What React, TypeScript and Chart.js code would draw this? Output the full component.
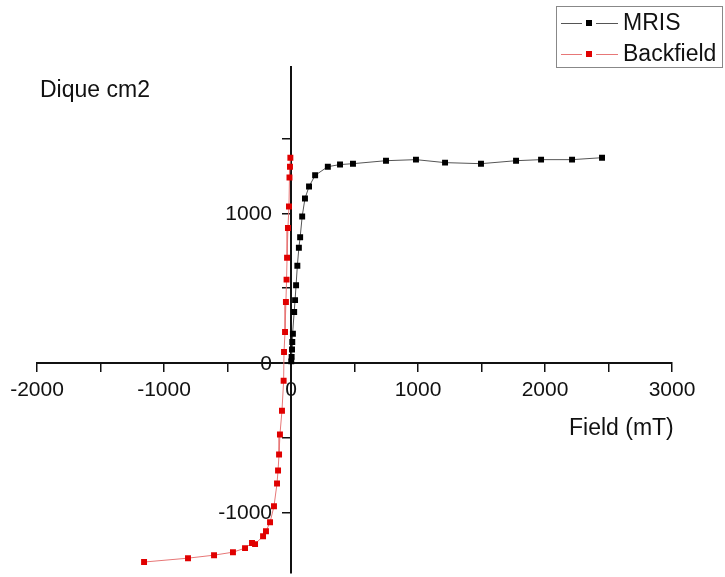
import React, { useEffect, useRef } from "react";
import { Chart, registerables } from "chart.js";
Chart.register(...registerables);

// ---- data ----
const mrisField = [2, 5, 8, 10, 15, 25, 32, 40, 50, 62, 72, 88, 110, 142, 190, 290, 386, 488, 748, 984, 1213, 1496, 1772, 1969, 2213, 2449];
const mrisMoment = [10, 40, 90, 140, 195, 340, 420, 520, 650, 770, 840, 980, 1100, 1180, 1255, 1313, 1327, 1333, 1353, 1360, 1340, 1333, 1353, 1360, 1360, 1373];
const backField = [-5, -8, -12, -16, -24, -31, -35, -40, -47, -55, -58, -71, -87, -94, -102, -110, -134, -165, -197, -220, -283, -307, -362, -457, -606, -811, -1157];
const backMoment = [1373, 1313, 1240, 1047, 903, 703, 557, 407, 207, 73, -120, -320, -480, -613, -720, -807, -960, -1067, -1127, -1160, -1213, -1205, -1240, -1267, -1287, -1307, -1333];

// ---- ticks ----
const xTickValues = [-2000, -1500, -1000, -500, 0, 500, 1000, 1500, 2000, 2500, 3000];
const yTickValues = [-1000, -500, 0, 500, 1000, 1500];
const labelStep = 1000;

const seriesNames = ["MRIS", "Backfield"];
const xTitle = "Field (mT)";
const yTitle = "Dique cm2";
const xMin = -2000;
const xMax = 3000;
const yMin = -1405;
const yMax = 1980;

const FONT = '"Liberation Sans", Arial, sans-serif';
const lineColors = ["#555555", "#e77777"];
const pointColors = ["#000000", "#e00000"];

const overlayPlugin = {
  id: "overlay",
  afterDraw(chart: any) {
    const ctx = chart.ctx;
    const xs = chart.scales.x;
    const ys = chart.scales.y;
    ctx.save();
    // y tick labels, from the y scale's own ticks
    const x0 = xs.getPixelForValue(0);
    ctx.font = `21px ${FONT}`;
    ctx.fillStyle = "#111";
    ctx.textAlign = "right";
    ctx.textBaseline = "middle";
    ys.ticks.forEach((t: any) => {
      if (t.value % labelStep === 0) {
        ctx.fillText(String(t.value), x0 - 19, ys.getPixelForValue(t.value) + 1);
      }
    });

    ctx.textBaseline = "alphabetic";
    ctx.font = `23px ${FONT}`;
    ctx.textAlign = "left";
    ctx.fillText(yTitle, 40, 97);
    ctx.fillText(xTitle, 569, 435);

    // legend
    ctx.strokeStyle = "#888";
    ctx.lineWidth = 1;
    ctx.strokeRect(556.5, 6.5, 166, 61);
    const rowsY = [23, 54];
    seriesNames.forEach((name, i) => {
      const y = rowsY[i];
      ctx.strokeStyle = lineColors[i];
      ctx.lineWidth = 1;
      ctx.beginPath();
      ctx.moveTo(561, y + 0.5);
      ctx.lineTo(582, y + 0.5);
      ctx.moveTo(596, y + 0.5);
      ctx.lineTo(618, y + 0.5);
      ctx.stroke();
      ctx.fillStyle = pointColors[i];
      ctx.fillRect(586, y - 3, 6, 6);
      ctx.fillStyle = "#111";
      ctx.font = `23px ${FONT}`;
      ctx.textBaseline = "middle";
      ctx.fillText(name, 623, y + 1);
    });
    ctx.restore();
  },
};

const zeroFit = (horizontal: boolean) => (s: any) => {
  if (horizontal) s.height = 0;
  else s.width = 0;
  s.paddingLeft = 0;
  s.paddingRight = 0;
  s.paddingTop = 0;
  s.paddingBottom = 0;
};

export default function App() {
  const ref = useRef<HTMLCanvasElement | null>(null);
  useEffect(() => {
    document.body.style.margin = "0";
    const canvas = ref.current!;
    const mk = (xs: number[], ys: number[]) => xs.map((x, i) => ({ x, y: ys[i] }));
    const tickFont = { family: FONT, size: 21 };
    const chart = new Chart(canvas, {
      type: "scatter",
      data: {
        datasets: [
          {
            label: seriesNames[0],
            data: mk(mrisField, mrisMoment),
            showLine: true,
            borderColor: lineColors[0],
            borderWidth: 1,
            pointStyle: "rect",
            pointRadius: 4.2,
            pointBackgroundColor: pointColors[0],
            pointBorderColor: pointColors[0],
            pointBorderWidth: 0,
          },
          {
            label: seriesNames[1],
            data: mk(backField, backMoment),
            showLine: true,
            borderColor: lineColors[1],
            borderWidth: 1,
            pointStyle: "rect",
            pointRadius: 4.2,
            pointBackgroundColor: pointColors[1],
            pointBorderColor: pointColors[1],
            pointBorderWidth: 0,
          },
        ],
      },
      options: {
        responsive: false,
        animation: false,
        layout: { padding: { left: 37, right: 53, top: 67, bottom: 0 } },
        plugins: { legend: { display: false }, tooltip: { enabled: false } },
        scales: {
          x: {
            type: "linear",
            min: xMin,
            max: xMax,
            position: { y: 0 } as any,
            afterBuildTicks: (s: any) => {
              s.ticks = xTickValues.map((value) => ({ value }));
            },
            afterFit: zeroFit(true),
            border: { display: true, color: "#111", width: 2 },
            grid: { drawOnChartArea: false, drawTicks: true, tickLength: 8, color: "#111", lineWidth: 1.5 },
            ticks: {
              autoSkip: false,
              maxRotation: 0,
              color: "#111",
              font: tickFont,
              padding: 7,
              callback: (v: any) => (Number(v) % labelStep === 0 ? String(v) : ""),
            },
          },
          y: {
            type: "linear",
            min: yMin,
            max: yMax,
            position: { x: 0 } as any,
            afterBuildTicks: (s: any) => {
              s.ticks = yTickValues.map((value) => ({ value }));
            },
            afterFit: zeroFit(false),
            border: { display: true, color: "#111", width: 2 },
            grid: { drawOnChartArea: false, drawTicks: true, tickLength: 8, color: "#111", lineWidth: 1.5 },
            ticks: {
              display: false,
              autoSkip: false,
            },
          },
        },
      },
      plugins: [overlayPlugin],
    });
    return () => chart.destroy();
  }, []);
  return (
    <div style={{ width: 725, height: 577, position: "relative", background: "#fff" }}>
      <canvas ref={ref} width={725} height={577} style={{ display: "block" }} />
    </div>
  );
}
